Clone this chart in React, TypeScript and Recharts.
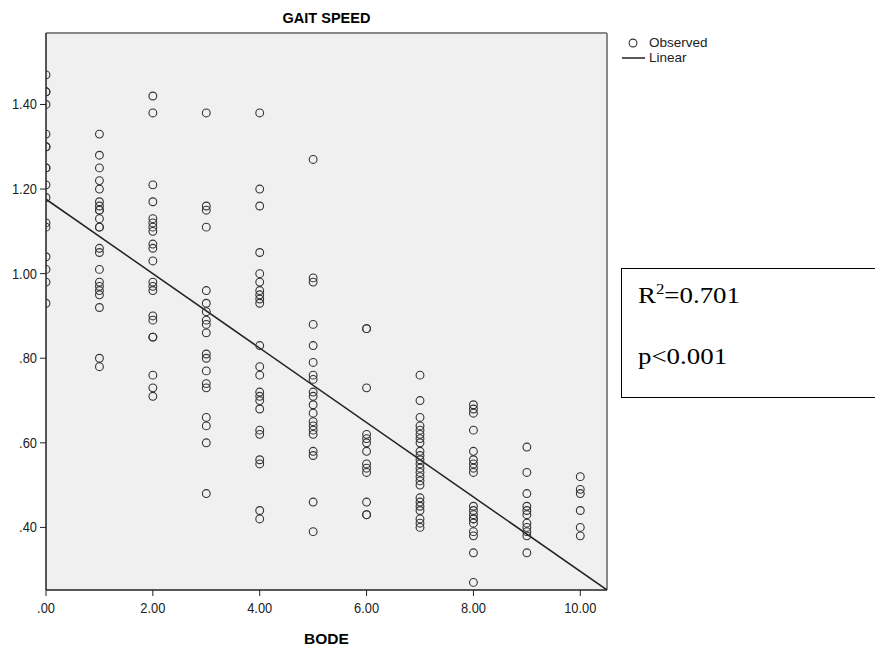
import { ComposedChart, Scatter, XAxis, YAxis, CartesianGrid, ReferenceLine } from "recharts";

// BODE score columns (x) and gait speed readings (y)
const BODE_SCORES = [0, 1, 2, 3, 4, 5, 6, 7, 8, 9, 10];
const GAIT_BY_BODE: number[][] = [
  [1.47, 1.43, 1.43, 1.40, 1.33, 1.30, 1.30, 1.25, 1.25, 1.21, 1.18, 1.12, 1.11, 1.04, 1.01, 0.98, 0.93],
  [1.33, 1.28, 1.25, 1.22, 1.20, 1.17, 1.16, 1.15, 1.15, 1.13, 1.11, 1.11, 1.06, 1.05, 1.01, 0.98, 0.97, 0.96, 0.95, 0.92, 0.80, 0.78],
  [1.42, 1.38, 1.21, 1.17, 1.13, 1.12, 1.11, 1.10, 1.07, 1.06, 1.03, 0.98, 0.97, 0.96, 0.90, 0.89, 0.85, 0.85, 0.76, 0.73, 0.71],
  [1.38, 1.16, 1.15, 1.11, 0.96, 0.93, 0.91, 0.89, 0.88, 0.86, 0.81, 0.80, 0.77, 0.74, 0.73, 0.66, 0.64, 0.60, 0.48],
  [1.38, 1.20, 1.16, 1.05, 1.00, 0.98, 0.96, 0.95, 0.94, 0.93, 0.83, 0.78, 0.76, 0.72, 0.71, 0.70, 0.68, 0.63, 0.62, 0.56, 0.55, 0.44, 0.42],
  [1.27, 0.99, 0.98, 0.88, 0.83, 0.79, 0.76, 0.75, 0.72, 0.71, 0.69, 0.67, 0.65, 0.64, 0.63, 0.62, 0.58, 0.57, 0.46, 0.39],
  [0.87, 0.87, 0.73, 0.62, 0.61, 0.60, 0.58, 0.55, 0.54, 0.53, 0.46, 0.43, 0.43],
  [0.76, 0.70, 0.66, 0.64, 0.63, 0.62, 0.61, 0.60, 0.58, 0.57, 0.56, 0.55, 0.54, 0.53, 0.52, 0.51, 0.50, 0.47, 0.46, 0.45, 0.44, 0.42, 0.41, 0.40],
  [0.69, 0.68, 0.67, 0.63, 0.58, 0.56, 0.55, 0.54, 0.53, 0.45, 0.44, 0.43, 0.42, 0.42, 0.41, 0.39, 0.38, 0.34, 0.27],
  [0.59, 0.53, 0.48, 0.45, 0.44, 0.43, 0.41, 0.40, 0.39, 0.38, 0.34],
  [0.52, 0.49, 0.48, 0.44, 0.40, 0.38],
];
// linear fit as drawn in the source figure
const FIT_INTERCEPT = 1.176;
const FIT_SLOPE = -0.088;
const X_TICKS = [0, 2, 4, 6, 8, 10];
const Y_TICKS = [0.4, 0.6, 0.8, 1.0, 1.2, 1.4];
const X_DOMAIN: [number, number] = [0, 10.5];
const Y_DOMAIN: [number, number] = [0.252, 1.569];

const points = BODE_SCORES.flatMap((x, i) => GAIT_BY_BODE[i].map((y) => ({ x, y })));

const fmt = (v: number) => v.toFixed(2).replace(/^0/, "");
const sans = "'Liberation Sans', Arial, sans-serif";
const serif = "'Liberation Serif', 'Times New Roman', serif";

function XTick(props: any) {
  const { x, y, payload } = props;
  return (
    <g transform={`translate(${x},${y})`}>
      <text x={0} y={0} dy={13} textAnchor="middle" fontSize={14} fill="#222" fontFamily={sans} transform="scale(0.92,1)">
        {fmt(payload.value)}
      </text>
    </g>
  );
}

function YTick(props: any) {
  const { x, y, payload } = props;
  return (
    <g transform={`translate(${x},${y})`}>
      <text x={0} y={0} dy={5} textAnchor="end" fontSize={14} fill="#222" fontFamily={sans} transform="scale(0.92,1)">
        {fmt(payload.value)}
      </text>
    </g>
  );
}

function Ring(props: any) {
  const { cx, cy } = props;
  if (cx == null || cy == null) return null;
  return <circle cx={cx} cy={cy} r={3.9} fill="none" stroke="#333" strokeWidth={1.1} />;
}

export default function App() {
  return (
    <div style={{ position: "absolute", left: 0, top: 0, width: 875, height: 649, overflow: "hidden", background: "#fff" }}>
      <ComposedChart width={875} height={649} margin={{ top: 33, right: 268, bottom: 0, left: 0 }}>
        <CartesianGrid fill="#f0f0f0" horizontal={false} vertical={false} />
        <XAxis
          type="number"
          dataKey="x"
          domain={X_DOMAIN}
          ticks={X_TICKS}
          allowDataOverflow
          tick={<XTick />}
          tickSize={6}
          tickMargin={4}
          height={59}
          axisLine={{ stroke: "#222", strokeWidth: 1.5 }}
          tickLine={{ stroke: "#222" }}
        />
        <YAxis
          type="number"
          dataKey="y"
          domain={Y_DOMAIN}
          ticks={Y_TICKS}
          allowDataOverflow
          tick={<YTick />}
          tickSize={6}
          tickMargin={3}
          width={46}
          axisLine={{ stroke: "#222", strokeWidth: 1.5 }}
          tickLine={{ stroke: "#222" }}
        />
        <ReferenceLine y={Y_DOMAIN[1]} stroke="#888" strokeWidth={2} />
        <ReferenceLine x={X_DOMAIN[1]} stroke="#888" strokeWidth={2} />
        <Scatter data={points} shape={Ring} isAnimationActive={false} />
        <ReferenceLine
          segment={[
            { x: X_DOMAIN[0], y: FIT_INTERCEPT },
            { x: X_DOMAIN[1], y: FIT_INTERCEPT + FIT_SLOPE * X_DOMAIN[1] },
          ]}
          stroke="#222"
          strokeWidth={1.5}
          ifOverflow="hidden"
        />
      </ComposedChart>

      <div style={{ position: "absolute", left: 0, width: 653, top: 10, textAlign: "center", fontFamily: sans, fontWeight: "bold", fontSize: 14.5 }}>
        GAIT SPEED
      </div>
      <div style={{ position: "absolute", left: 0, width: 653, top: 630, textAlign: "center", fontFamily: sans, fontWeight: "bold", fontSize: 15.5, lineHeight: "17px" }}>
        BODE
      </div>

      <svg style={{ position: "absolute", left: 618, top: 35 }} width={40} height={30}>
        <circle cx={15} cy={8} r={3.9} fill="none" stroke="#333" strokeWidth={1.1} />
        <line x1={4} y1={23} x2={27} y2={23} stroke="#222" strokeWidth={1.5} />
      </svg>
      <div style={{ position: "absolute", left: 649, top: 35, fontFamily: sans, fontSize: 13.5, color: "#222", lineHeight: "15px" }}>
        Observed
        <br />
        Linear
      </div>

      <div style={{ position: "absolute", left: 621, top: 268, width: 280, height: 128, border: "1px solid #000", background: "#fff" }}>
        <div style={{ position: "absolute", left: 16, top: 12, fontFamily: serif, fontSize: 24, lineHeight: "28px", transform: "scaleX(1.12)", transformOrigin: "left" }}>
          R<sup style={{ fontSize: 15, lineHeight: 0 }}>2</sup>=0.701
        </div>
        <div style={{ position: "absolute", left: 16, top: 73, fontFamily: serif, fontSize: 24, lineHeight: "28px", transform: "scaleX(1.12)", transformOrigin: "left" }}>
          p&lt;0.001
        </div>
      </div>
    </div>
  );
}
